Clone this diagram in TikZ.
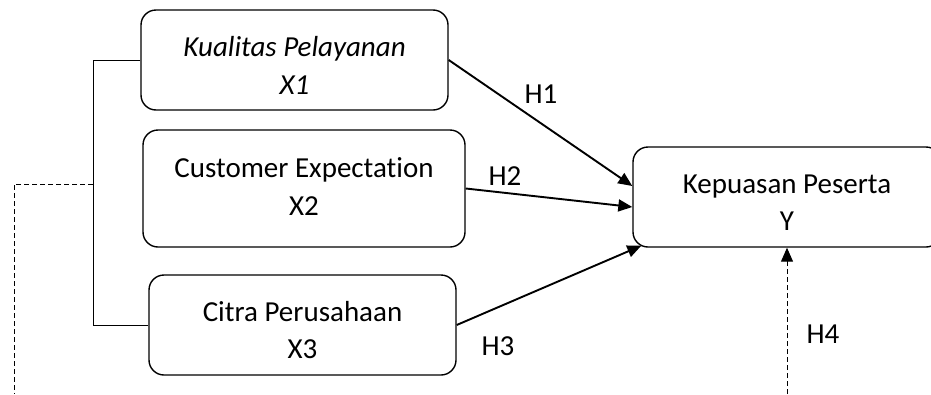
\documentclass[tikz,border=0pt]{standalone}
\usepackage{fontspec}
\setmainfont[Ligatures={NoCommon}]{Carlito}
\usetikzlibrary{arrows.meta}
\tikzset{
  varbox/.style={draw, line width=1.4pt, rounded corners=15pt, inner sep=0pt},
  vartext/.style={inner sep=0pt, align=center, font=\fontsize{29}{37.5}\selectfont},
  hyparrow/.style={line width=1.9pt, -{Triangle[length=14pt,width=12pt]}},
  hlabel/.style={inner sep=0pt, font=\fontsize{29}{32}\selectfont},
  thinline/.style={line width=1pt},
  dashline/.style={line width=1pt, dash pattern=on 5pt off 3pt}
}
\begin{document}
\begin{tikzpicture}[x=1pt,y=-1pt]
\useasboundingbox (0,0) rectangle (931,394);
\clip (0,0) rectangle (931,394);
\node[varbox, minimum width=307pt, minimum height=100pt] (x1) at (294.5,60) {};
\node[varbox, minimum width=322pt, minimum height=117pt] (x2) at (304,188.5) {};
\node[varbox, minimum width=307pt, minimum height=100pt] (x3) at (302.5,325) {};
\node[varbox, minimum width=308pt, minimum height=100pt] (y) at (787,197) {};

\node[vartext] (x1t) at ([yshift=-5.5pt]x1.center) {\itshape Kualitas Pelayanan\\\itshape X1};
\node[vartext] (x2t) at ([yshift=2pt]x2.center) {Customer Expectation\\X2};
\node[vartext] (x3t) at ([yshift=-5pt]x3.center) {Citra Perusahaan\\X3};
\node[vartext] (yt) at ([yshift=-5.5pt]y.center) {Kepuasan Peserta\\Y};

\coordinate (bt) at (93,60);
\coordinate (bm) at (93,184);
\coordinate (dc) at (14,184);
\coordinate (dl) at (14,394);
\coordinate (dr) at (787,394);

\draw[thinline] (x1.west) -- (bt) |- (x3.west);
\draw[dashline] (bm) -- (dc) -- (dl);
\draw[dashline, -{Triangle[length=14pt,width=12pt]}] (dr) -- (y.south);

\draw[hyparrow] (x1.east) -- ([yshift=11pt]y.west);
\draw[hyparrow] (x2.east) -- ([yshift=-10pt]y.west);
\draw[hyparrow] (x3.east) -- ([xshift=9pt,yshift=2pt]y.south west);

\node[hlabel] (h1) at (541,94) {H1};
\node[hlabel] (h2) at (505,176) {H2};
\node[hlabel] (h3) at (498,346) {H3};
\node[hlabel] (h4) at (823,334) {H4};
\end{tikzpicture}
\end{document}
